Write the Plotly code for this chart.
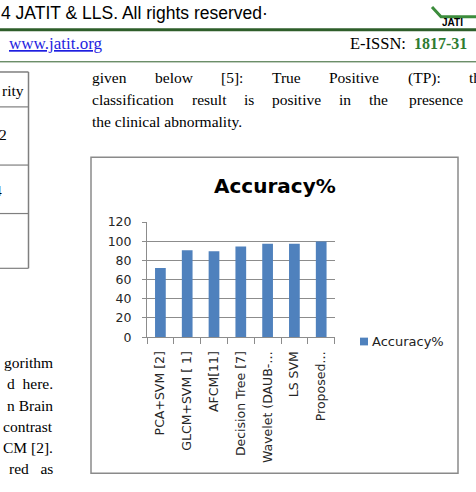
import plotly.graph_objects as go

# ---- data ----
methods = ["PCA+SVM [2]", "GLCM+SVM [ 1]", "AFCM[11]", "Decision Tree [7]",
           "Wavelet (DAUB-…", "LS SVM", "Proposed…"]
accuracy = [72, 90.5, 89.5, 94.5, 97.5, 97.5, 99.7]
series_name = "Accuracy%"
chart_title = "Accuracy%"
y_ticks = [0, 20, 40, 60, 80, 100, 120]

W, H = 476, 492
def px(x): return x / W
def py(y): return 1 - y / H

BAR = "#4F81BD"
GRID = "#8C8C8C"
SERIF = "Liberation Serif"
SANS = "DejaVu Sans"

fig = go.Figure()
fig.add_trace(go.Bar(x=methods, y=accuracy, name=series_name, marker_color=BAR,
                     marker_line_width=0, width=0.4, showlegend=False))

shapes = []
annotations = []

def line(x0, y0, x1, y1, color, width):
    shapes.append(dict(type="line", xref="paper", yref="paper", x0=px(x0), y0=py(y0),
                       x1=px(x1), y1=py(y1), line=dict(color=color, width=width)))

def text(t, x, y, size, family, color="#000", xanchor="left", bold=False, underline=False):
    if bold:
        t = "<b>" + t + "</b>"
    if underline:
        t = "<u>" + t + "</u>"
    annotations.append(dict(text=t, x=px(x), y=py(y), xref="paper", yref="paper",
                            xanchor=xanchor, yanchor="middle", showarrow=False,
                            font=dict(size=size, family=family, color=color)))

# ---- page header ----
text("4 JATIT &amp; LLS. All rights reserved·", -1, 5, 17.5, "Liberation Sans")
line(0, 22.5, W, 22.5, "#2E5E2A", 3)
shapes.append(dict(type="path", xref="paper", yref="paper",
                   path=f"M {px(432)} {py(-1)} L {px(441)} {py(9)} L {px(478)} {py(9)}",
                   line=dict(color="#3C8C3C", width=3)))
text("JATI", 440, 15, 10, "Liberation Sans", bold=True)
text("www.jatit.org", 7, 37, 17, SERIF, color="#1F1FE0", underline=True)
text("E-ISSN:", 408, 37, 16.5, SERIF, xanchor="right")
text("1817-31", 412, 37, 16, SERIF, color="#2E7D32", bold=True)
line(0, 55.5, W, 55.5, "#2E5E2A", 1)

# ---- left table fragment ----
TG = "#7F7F7F"
line(0, 66, 28.5, 66, TG, 1.5)
line(28.5, 66, 28.5, 268.5, TG, 1.5)
for yy in (102, 162, 212, 268.5):
    line(0, yy, 28.5, yy, TG, 1.2)
text("rity", 26, 85, 15.5, SERIF, xanchor="right")
text("2", 9, 130, 15.5, SERIF, xanchor="right")
text("4", 4, 188, 15.5, SERIF, xanchor="right")

# ---- left paragraph fragment ----
left_lines = ["gorithm", "d  here.", "n Brain", "contrast", "CM [2].", "red   as"]
for i, t in enumerate(left_lines):
    text(t, 54.5, 366 + 21.8 * i, 15.5, SERIF, xanchor="right")

# ---- right paragraph ----
l1 = [("given", 90), ("below", 152.5), ("[5]:", 219), ("True", 269.5),
      ("Positive", 327), ("(TP):", 405.5), ("th", 467)]
l2 = [("classification", 90), ("result", 190), ("is", 242), ("positive", 270),
      ("in", 337), ("the", 367), ("presence", 407)]
for w, x in l1:
    text(w, x, 72, 15.5, SERIF)
for w, x in l2:
    text(w, x, 94.5, 15.5, SERIF)
text("the clinical abnormality.", 90, 117, 15.5, SERIF)

# ---- chart frame ----
shapes.append(dict(type="rect", xref="paper", yref="paper", x0=px(91), y0=py(480),
                   x1=px(458), y1=py(154), line=dict(color="#8A8A8A", width=1.5),
                   fillcolor="rgba(0,0,0,0)", layer="below"))
text(chart_title, 275, 184, 20, SANS, bold=True, xanchor="center")

# manual legend
shapes.append(dict(type="rect", xref="paper", yref="paper", x0=px(360), y0=py(348),
                   x1=px(368), y1=py(340), line=dict(width=0), fillcolor=BAR))
text(series_name, 370, 344, 13, SANS, color="#222")

fig.update_layout(
    width=W, height=H, margin=dict(l=0, r=0, t=0, b=0),
    paper_bgcolor="white", plot_bgcolor="white",
    shapes=shapes, annotations=annotations, showlegend=False,
    xaxis=dict(domain=[px(147), px(334.6)], type="category", tickangle=-90,
               showline=True, linecolor=GRID, linewidth=1, showgrid=False,
               ticks="outside", tickson="boundaries", ticklen=6, tickcolor=GRID,
               tickfont=dict(size=12.5, family=SANS, color="#262626"),
               ticklabelstandoff=8),
    yaxis=dict(domain=[py(339.5), py(220.8)], range=[0, 120], tickvals=y_ticks,
               showline=True, linecolor=GRID, linewidth=1, showgrid=True,
               gridcolor=GRID, gridwidth=1, zeroline=False,
               ticks="outside", ticklen=4, tickcolor=GRID,
               tickfont=dict(size=12.5, family=SANS, color="#262626"),
               ticklabelstandoff=8),
)

fig.write_html("out.html")
